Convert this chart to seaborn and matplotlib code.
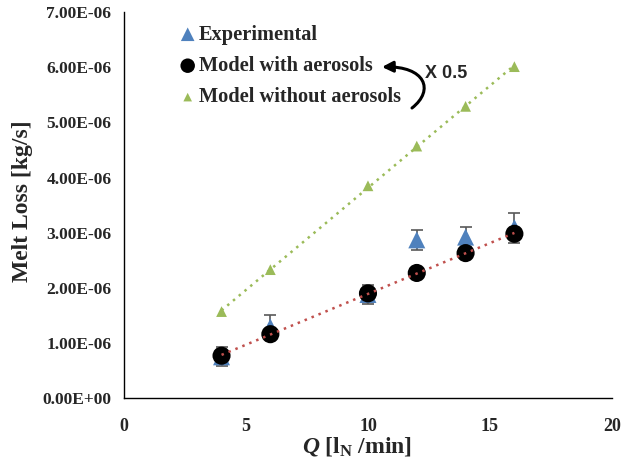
import numpy as np
import pandas as pd
import matplotlib
matplotlib.use("Agg")
import matplotlib.pyplot as plt
import seaborn as sns
from matplotlib.patches import FancyArrowPatch
from matplotlib.path import Path

# dati
q = [4, 6, 10, 12, 14, 16]
exp_loss = [0.75e-6, 1.29e-6, 1.88e-6, 2.87e-6, 2.92e-6, 3.09e-6]
exp_err = [0.17e-6, 0.21e-6, 0.17e-6, 0.18e-6, 0.18e-6, 0.27e-6]
model_with = [0.77e-6, 1.16e-6, 1.90e-6, 2.27e-6, 2.63e-6, 2.98e-6]
model_without = [1.57e-6, 2.33e-6, 3.85e-6, 4.57e-6, 5.29e-6, 6.01e-6]  # x 0.5

sns.set_style("white")
plt.rcParams['font.family'] = ['Liberation Serif', 'DejaVu Serif']
plt.rcParams['font.weight'] = 'bold'
plt.rcParams['mathtext.fontset'] = 'custom'
plt.rcParams['mathtext.rm'] = 'Liberation Serif:bold'
plt.rcParams['mathtext.it'] = 'Liberation Serif:italic:bold'

df = pd.DataFrame({'Q': q, 'exp': exp_loss, 'err': exp_err,
                   'with': model_with, 'without': model_without})

W, H = 629, 463
fig = plt.figure(figsize=(W / 100, H / 100), dpi=100)
ax = fig.add_axes([0.197, 0.140, 0.776, 0.834])

# linee di tendenza (regressione lineare)
xx = np.array([min(q), max(q)])
p_with = np.polyfit(q, model_with, 1)
p_without = np.polyfit(q, model_without, 1)
sns.lineplot(x=xx, y=np.polyval(p_without, xx), color='#9BBB59', lw=1.8,
             linestyle=(0, (1, 2)), ax=ax, zorder=1)
sns.lineplot(x=xx, y=np.polyval(p_with, xx), color='#C0504D', lw=1.8,
             linestyle=(0, (1, 2)), ax=ax, zorder=4)

# dati sperimentali con barre di errore
ax.errorbar(df['Q'], df['exp'], yerr=df['err'], fmt='none', ecolor='#595959',
            elinewidth=1.2, capsize=4, capthick=1.2, zorder=2)
sns.scatterplot(data=df, x='Q', y='exp', marker='^', s=150, color='#4F81BD',
                edgecolor='none', ax=ax, zorder=2, label='Experimental')
sns.scatterplot(data=df, x='Q', y='with', marker='o', s=170, color='black',
                edgecolor='none', ax=ax, zorder=3, label='Model with aerosols')
sns.scatterplot(data=df, x='Q', y='without', marker='^', s=60, color='#9BBB59',
                edgecolor='none', ax=ax, zorder=3, label='Model without aerosols')

ax.set_xlim(0, 20)
ax.set_ylim(0, 7e-6)
ax.set_xticks([0, 5, 10, 15, 20])
ax.set_yticks(np.arange(0, 7.5e-6, 1e-6))
ax.set_yticklabels([f"{v:.2E}" for v in np.arange(0, 7.5e-6, 1e-6)])
ax.tick_params(axis='y', labelsize=12.5, length=0, pad=9)
ax.tick_params(axis='x', labelsize=13, length=0, pad=14)
for t in ax.get_xticklabels() + ax.get_yticklabels():
    t.set_fontweight('bold')

ax.set_xlabel(r'$\mathit{Q}$ [l$_\mathrm{N}$ /min]', fontsize=17, fontweight='bold')
ax.xaxis.set_label_coords(0.477, -0.095)
ax.set_ylabel('Melt Loss [kg/s]', fontsize=17, fontweight='bold')
ax.yaxis.set_label_coords(-0.186, 0.51)

sns.despine(ax=ax)
for s in ['left', 'bottom']:
    ax.spines[s].set_color('black')
    ax.spines[s].set_linewidth(1.0)

leg = ax.legend(loc='upper left', bbox_to_anchor=(0.07, 1.015), frameon=False,
                prop={'family': 'Liberation Serif', 'weight': 'bold', 'size': 14.7},
                handletextpad=0.0, labelspacing=0.56, handlelength=1.1,
                markerscale=0.8)

# freccia curva "X 0.5" (coordinate in pixel della figura, dall'alto)
pts = [(412, 108), (435, 90), (425, 66), (382, 67)]
verts = [(x / W, 1 - y / H) for x, y in pts]
arrow = FancyArrowPatch(path=Path(verts, [Path.MOVETO, Path.CURVE4, Path.CURVE4, Path.CURVE4]),
                        arrowstyle='-|>', color='black', lw=2.2, mutation_scale=16,
                        transform=fig.transFigure)
fig.patches.append(arrow)
fig.text(425 / W, 1 - 74 / H, 'X 0.5', fontsize=13, fontweight='bold',
         family='Liberation Sans', va='center')

plt.savefig('out.png', dpi=100)
